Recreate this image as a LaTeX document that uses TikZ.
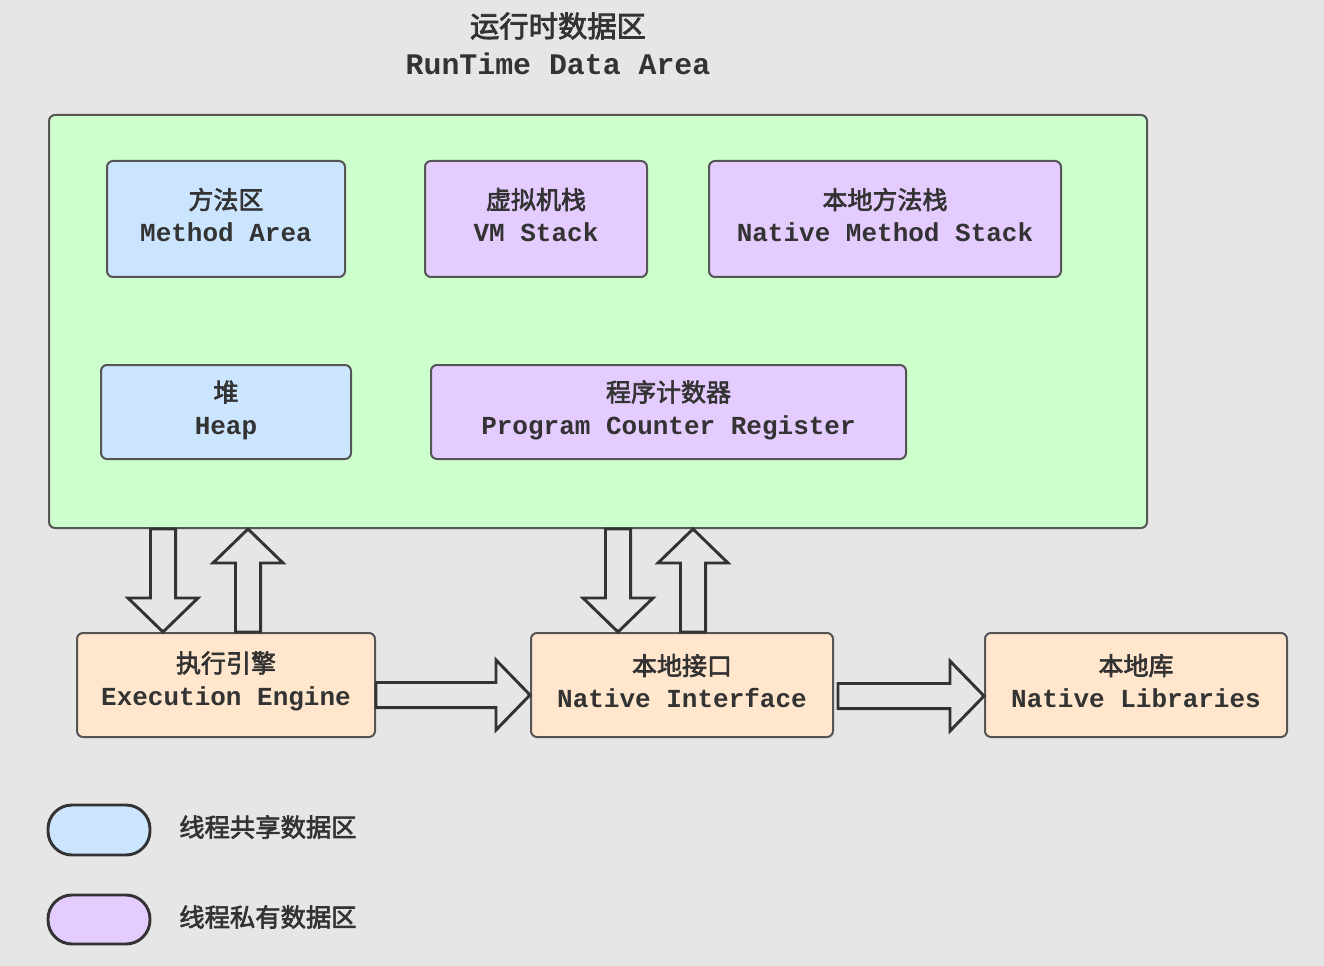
\documentclass[tikz,border=0pt]{standalone}
\usepackage{fontspec}
\setmonofont{Liberation Mono}
\newfontfamily\cjk{Noto Sans CJK SC}[FakeBold=2.5]
\usetikzlibrary{calc}
\definecolor{bg}{HTML}{E6E6E6}
\definecolor{gfill}{HTML}{CCFFCC}
\definecolor{bfill}{HTML}{CCE5FF}
\definecolor{pfill}{HTML}{E5CCFF}
\definecolor{ofill}{HTML}{FFE6CC}
\definecolor{edge}{HTML}{555555}
\definecolor{ink}{HTML}{333333}
\newcommand{\mtext}[2]{{\cjk\fontsize{18.75pt}{24.5pt}\selectfont #1}\\{\ttfamily\bfseries #2}}
\tikzset{
  sz/.style 2 args={minimum width=#1*0.75pt, minimum height=#2*0.75pt},
  box/.style={draw=edge, line width=1.5pt, rounded corners=4.5pt},
  lbl/.style={align=center, text=ink, inner sep=0pt, font=\fontsize{19.5pt}{24.5pt}\selectfont},
  shared/.style={box, fill=bfill},
  private/.style={box, fill=pfill},
  engine/.style={box, fill=ofill},
  pill/.style={draw=ink, line width=2.2pt, rounded corners=18pt},
  fat/.style={draw=ink, line width=2.2pt, fill=bg, line join=miter,
    to path={let \p1=(\tikztostart), \p2=(\tikztotarget), \n1={atan2(\y2-\y1,\x2-\x1)} in
      ([shift={(\p1)},rotate=\n1]0pt,9.4pt) -- ([shift={(\p2)},rotate=\n1]-25.5pt,9.4pt)
      -- ([shift={(\p2)},rotate=\n1]-25.5pt,26.25pt) -- (\p2)
      -- ([shift={(\p2)},rotate=\n1]-25.5pt,-26.25pt) -- ([shift={(\p2)},rotate=\n1]-25.5pt,-9.4pt)
      -- ([shift={(\p1)},rotate=\n1]0pt,-9.4pt) -- cycle}},
}
\begin{document}
\begin{tikzpicture}[x=0.75pt,y=-0.75pt]
\fill[bg] (0,0) rectangle (1324,966);
\useasboundingbox (0,0) rectangle (1324,966);

% title
\node[text=ink, font=\cjk\fontsize{22pt}{26pt}\selectfont] (t1) at (558,26) {运行时数据区};
\node[text=ink, font=\ttfamily\bfseries\fontsize{22.4pt}{26pt}\selectfont] (t2) at (558,64) {RunTime Data Area};

% runtime data area
\node[box, fill=gfill, sz={1098}{413}] (rt) at (598,321.5) {};
\node[shared, sz={238}{116}] (ma) at (226,219) {};
\node[private, sz={222}{116}] (vm) at (536,219) {};
\node[private, sz={352}{116}] (nms) at (885,219) {};
\node[shared, sz={250}{94}] (heap) at (226,412) {};
\node[private, sz={475}{94}] (pc) at (668.5,412) {};
\node[lbl] (ma-t) at ([yshift=3pt]ma.center) {\mtext{方法区}{Method Area}};
\node[lbl] (vm-t) at ([yshift=3pt]vm.center) {\mtext{虚拟机栈}{VM Stack}};
\node[lbl] (nms-t) at ([yshift=3pt]nms.center) {\mtext{本地方法栈}{Native Method Stack}};
\node[lbl] (heap-t) at ([yshift=1.5pt]heap.center) {\mtext{堆}{Heap}};
\node[lbl] (pc-t) at ([yshift=1.5pt]pc.center) {\mtext{程序计数器}{Program Counter Register}};

% engines
\node[engine, sz={298}{104}] (ee) at (226,685) {};
\node[engine, sz={302}{104}] (ni) at (682,685) {};
\node[engine, sz={302}{104}] (nl) at (1136,685) {};
\node[lbl] (ee-t) at ([yshift=3pt]ee.center) {\mtext{执行引擎}{Execution Engine}};
\node[lbl] (ni-t) at ([yshift=3pt]ni.center) {\mtext{本地接口}{Native Interface}};
\node[lbl] (nl-t) at ([yshift=3pt]nl.center) {\mtext{本地库}{Native Libraries}};

% arrow end points
\coordinate (d1b) at ($(ee.north)+(-63,0)$);
\coordinate (d1a) at (d1b |- rt.south);
\coordinate (u1a) at ($(ee.north)+(22,0)$);
\coordinate (u1b) at (u1a |- rt.south);
\coordinate (d2b) at ($(ni.north)+(-64,0)$);
\coordinate (d2a) at (d2b |- rt.south);
\coordinate (u2a) at ($(ni.north)+(11,0)$);
\coordinate (u2b) at (u2a |- rt.south);
\coordinate (h1a) at ($(ee.east)+(0,10)$);
\coordinate (h1b) at ($(ni.west)+(0,10)$);
\coordinate (h2a) at ($(ni.east)+(4,11)$);
\coordinate (h2b) at ($(nl.west)+(0,11)$);

\draw[fat] (d1a) to (d1b);
\draw[fat] (u1a) to (u1b);
\draw[fat] (d2a) to (d2b);
\draw[fat] (u2a) to (u2b);
\draw[fat] (h1a) to (h1b);
\draw[fat] (h2a) to (h2b);

% legend
\node[pill, fill=bfill, sz={102}{50}] (lg1) at (99,830) {};
\node[pill, fill=pfill, sz={102}{49}] (lg2) at (99,919.5) {};
\node[anchor=west, text=ink, font=\cjk\fontsize{19pt}{23pt}\selectfont, inner sep=0pt] (lt1) at (179,827) {线程共享数据区};
\node[anchor=west, text=ink, font=\cjk\fontsize{19pt}{23pt}\selectfont, inner sep=0pt] (lt2) at (179,917) {线程私有数据区};
\end{tikzpicture}
\end{document}
